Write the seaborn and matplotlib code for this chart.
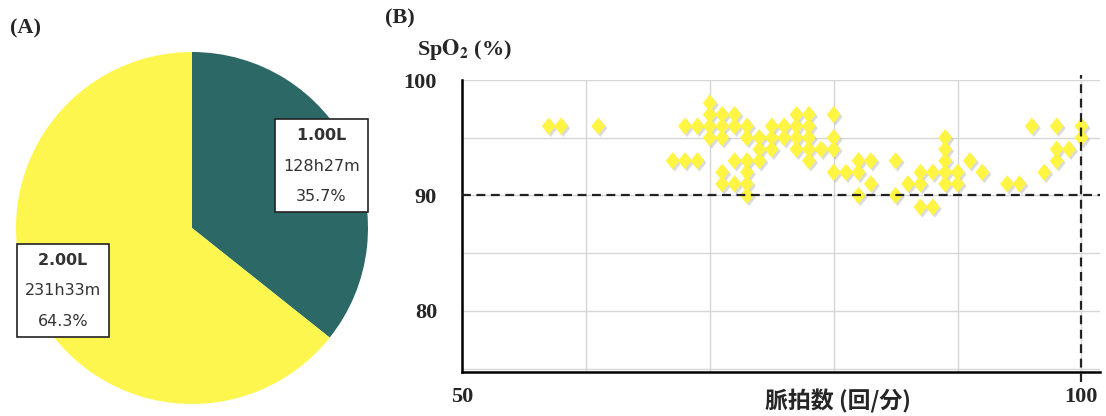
import numpy as np
import pandas as pd
import matplotlib
matplotlib.use("Agg")
import matplotlib.pyplot as plt
import matplotlib.patheffects as pe
import seaborn as sns

# (A) oxygen flow share
flow_labels = ["1.00L", "2.00L"]
flow_times = ["128h27m", "231h33m"]
flow_pct = [35.7, 64.3]
flow_colors = ["#2b6866", "#fdf64f"]

# (B) pulse rate vs SpO2
pulse = [57, 58, 61,
         67, 68, 68, 69, 69,
         70, 70, 70, 70,
         71, 71, 71, 71, 71,
         72, 72, 72, 72,
         73, 73, 73, 73, 73, 73,
         74, 74, 74,
         75, 75, 75,
         76, 76,
         77, 77, 77, 77,
         78, 78, 78, 78, 78,
         79,
         80, 80, 80, 80,
         81,
         82, 82, 82,
         83, 83,
         85, 85,
         86,
         87, 87, 87,
         88, 88,
         89, 89, 89, 89, 89,
         90, 90,
         91, 92, 94, 95,
         96, 97, 98, 98, 98, 99, 100, 100]
spo2 = [96, 96, 96,
        93, 96, 93, 96, 93,
        98, 97, 96, 95,
        97, 96, 95, 92, 91,
        97, 96, 93, 91,
        96, 95, 93, 92, 91, 90,
        95, 94, 93,
        96, 95, 94,
        96, 95,
        97, 96, 95, 94,
        97, 96, 95, 94, 93,
        94,
        97, 95, 94, 92,
        92,
        93, 92, 90,
        93, 91,
        93, 90,
        91,
        92, 91, 89,
        92, 89,
        95, 94, 93, 92, 91,
        92, 91,
        93, 92, 91, 91,
        96, 92, 96, 94, 93, 94, 96, 95]

spo2_limit = 90
pulse_limit = 100

df = pd.DataFrame({"pulse": pulse, "spo2": spo2})

sns.set_style("white")
plt.rcParams["font.family"] = ["DejaVu Sans"]
plt.rcParams["mathtext.fontset"] = "stix"

fig = plt.figure(figsize=(11.06, 4.16), dpi=100)

# ---------- (A) pie ----------
ax_pie = fig.add_axes([16 / 1106, 12 / 416, 352 / 1106, 352 / 416])
labels = [f"$\\mathbf{{{l}}}$\n{t}\n{p}%" for l, t, p in zip(flow_labels, flow_times, flow_pct)]
wedges, texts = ax_pie.pie(
    flow_pct, colors=flow_colors, startangle=90, counterclock=False,
    labels=labels, labeldistance=0.815, wedgeprops=dict(linewidth=0),
    textprops=dict(ha="center", va="center", fontsize=11.5, color="#333333", linespacing=2.3),
)
for t in texts:
    t.set_math_fontfamily("dejavusans")
    t.set_bbox(dict(boxstyle="square,pad=0.5", fc="white", ec="#222222", lw=1.2))
ax_pie.set_xlim(-1, 1)
ax_pie.set_ylim(-1, 1)
ax_pie.set_aspect("equal")
fig.text(10 / 1106, 1 - 28 / 416, "(A)", family="Liberation Serif", fontweight="bold",
         fontsize=16, va="center", ha="left")

# ---------- (B) scatter ----------
ax = fig.add_axes([462 / 1106, 44 / 416, 638 / 1106, 292 / 416])
diamond = [(-0.4, 0), (0, 0.5), (0.4, 0), (0, -0.5)]
sns.scatterplot(data=df, x="pulse", y="spo2", ax=ax, marker=diamond, s=155,
                color="#fff542", edgecolor="none", linewidth=0, zorder=3,
                path_effects=[pe.SimplePatchShadow(offset=(1.5, -1.5), shadow_rgbFace="#999999", alpha=0.35),
                              pe.Normal()])

ax.set_xlim(50, 101.5)
ax.set_ylim(74.7, 100)
ax.set_xticks([50, 100])
ax.set_xticks([60, 70, 80, 90], minor=True)
ax.set_yticks([75, 80, 85, 90, 95, 100])
ax.set_yticklabels(["", "80", "", "90", "", "100"])
ax.grid(True, which="both", color="#d6d6d6", lw=1.0, zorder=0)
ax.set_axisbelow(True)
for side in ["top", "right"]:
    ax.spines[side].set_visible(False)
for side in ["left", "bottom"]:
    ax.spines[side].set_color("black")
    ax.spines[side].set_linewidth(1.8)
ax.tick_params(axis="y", which="both", length=5, color="#bbbbbb", width=1, pad=13)
ax.tick_params(axis="x", which="major", length=6, color="black", width=1.2, pad=5)
ax.tick_params(axis="x", which="minor", length=0)
for lab in ax.get_xticklabels() + ax.get_yticklabels():
    lab.set_fontfamily("Liberation Serif")
    lab.set_fontweight("bold")
    lab.set_fontsize(16)

ax.axhline(spo2_limit, color="#222222", lw=1.6, ls=(0, (4, 2.5)), zorder=4)
ax.plot([pulse_limit, pulse_limit], [73.8, 100.4], color="#222222", lw=1.6,
        ls=(0, (4, 2.5)), zorder=4, clip_on=False)

ax.set_xlabel("")
ax.set_ylabel("")
ax.text(0.589, -0.1, "脈拍数 (回/分)", transform=ax.transAxes, ha="center", va="center",
        family=["Noto Sans CJK JP", "DejaVu Sans"], fontweight="bold", fontsize=16.5)
fig.text(417 / 1106, 1 - 50 / 416, r"Sp$\mathbf{O_2}$ (%)", family="Liberation Serif",
         fontweight="bold", fontsize=16, va="center", ha="left")
fig.text(385 / 1106, 1 - 18 / 416, "(B)", family="Liberation Serif", fontweight="bold",
         fontsize=16, va="center", ha="left")

fig.savefig("out.png", dpi=100)
